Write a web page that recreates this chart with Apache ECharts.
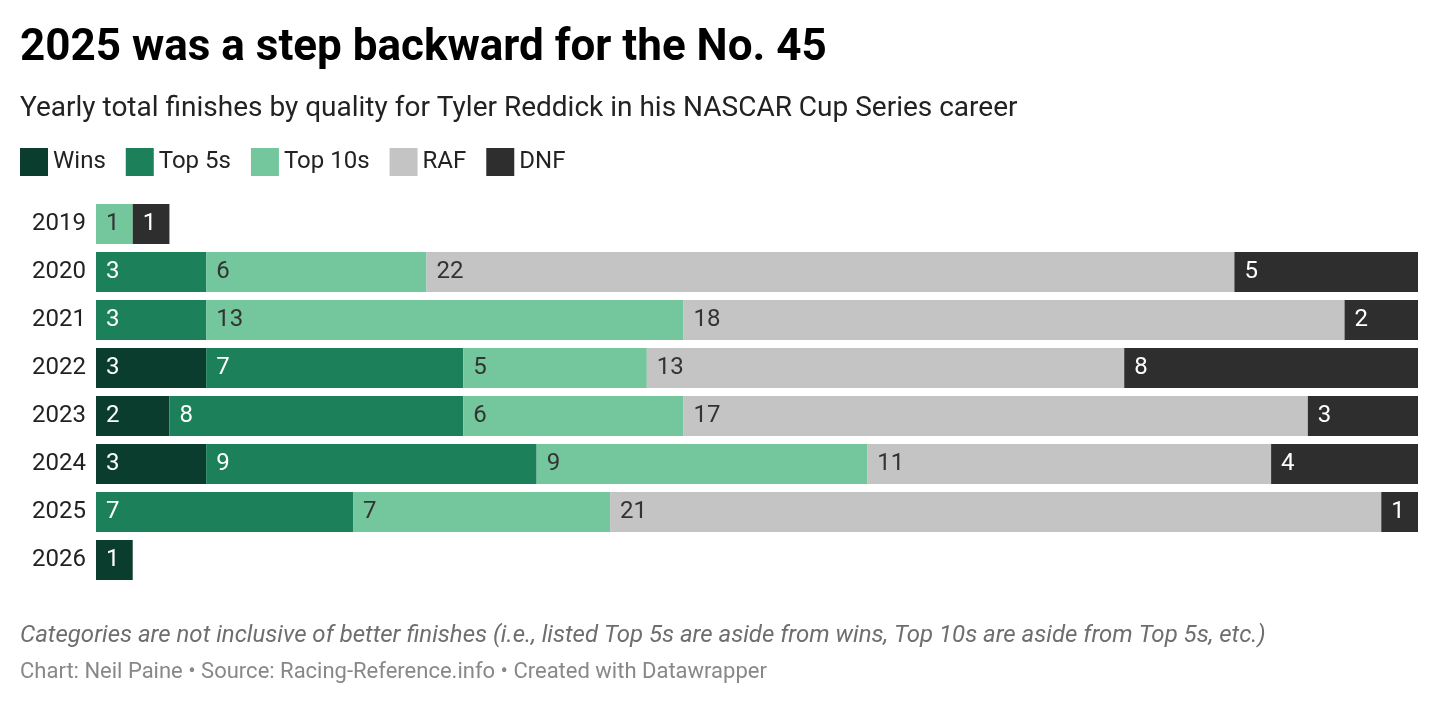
<!DOCTYPE html>
<html>
<head>
<meta charset="utf-8">
<script src="https://cdn.jsdelivr.net/npm/echarts@6/dist/echarts.min.js"></script>
<style>
  html, body { margin: 0; padding: 0; background: #fff; }
  #main { width: 1440px; height: 704px; }
</style>
</head>
<body>
<div id="main"></div>
<script>
// data
let years = ['2019', '2020', '2021', '2022', '2023', '2024', '2025', '2026'];
let wins   = [null, null, null, 3, 2, 3, null, 1];
let top5s  = [null, 3, 3, 7, 8, 9, 7, null];
let top10s = [1, 6, 13, 5, 6, 9, 7, null];
let raf    = [null, 22, 18, 13, 17, 11, 21, null];
let dnf    = [1, 5, 2, 8, 3, 4, 1, null];

window.addEventListener("load", function () {
    let chart = echarts.init(document.getElementById('main'));
    let font = 'Roboto';

    function barSeries(name, data, color, labelColor) {
        return {
            name: name,
            type: 'bar',
            stack: 'total',
            data: data,
            barWidth: 40,
            itemStyle: { color: color },
            label: {
                show: true,
                position: 'insideLeft',
                distance: 10,
                color: labelColor,
                fontFamily: font,
                fontSize: 24
            },
            emphasis: { disabled: true }
        };
    }

    let option = {
        animation: false,
        textStyle: { fontFamily: font },
        title: [
            {
                text: '2025 was a step backward for the No. 45',
                left: 20, top: 23, padding: 0,
                textStyle: { fontSize: 44, fontWeight: 'bold', color: '#000', lineHeight: 52 }
            },
            {
                text: 'Yearly total finishes by quality for Tyler Reddick in his NASCAR Cup Series career',
                left: 20, top: 92, padding: 0,
                textStyle: { fontSize: 28, fontWeight: 'normal', color: '#222', lineHeight: 34 }
            },
            {
                text: 'Categories are not inclusive of better finishes (i.e., listed Top 5s are aside from wins, Top 10s are aside from Top 5s, etc.)',
                left: 20, top: 622, padding: 0,
                textStyle: { fontSize: 24, fontWeight: 'normal', fontStyle: 'italic', color: '#6e6e6e', lineHeight: 28 }
            },
            {
                text: 'Chart: Neil Paine \u2022 Source: Racing-Reference.info \u2022 Created with Datawrapper',
                left: 20, top: 659, padding: 0,
                textStyle: { fontSize: 22, fontWeight: 'normal', color: '#888', lineHeight: 26 }
            }
        ],
        legend: {
            left: 20,
            top: 148,
            padding: 0,
            icon: 'rect',
            itemWidth: 28,
            itemHeight: 28,
            itemGap: 20,
            textStyle: { fontSize: 24, color: '#222', fontFamily: font },
            data: ['Wins', 'Top 5s', 'Top 10s', 'RAF', 'DNF']
        },
        grid: { left: 96, right: 22, top: 200, bottom: 120 },
        xAxis: {
            type: 'value',
            min: 0,
            max: 36,
            show: false
        },
        yAxis: {
            type: 'category',
            data: years,
            inverse: true,
            axisLine: { show: false },
            axisTick: { show: false },
            axisLabel: { color: '#222', fontSize: 24, margin: 10, fontFamily: font }
        },
        series: [
            barSeries('Wins', wins, '#0b3d2e', '#fff'),
            barSeries('Top 5s', top5s, '#1c805a', '#fff'),
            barSeries('Top 10s', top10s, '#74c69d', '#333'),
            barSeries('RAF', raf, '#c4c4c4', '#333'),
            barSeries('DNF', dnf, '#2e2e2e', '#fff')
        ]
    };

    chart.setOption(option);
}, false);
</script>
</body>
</html>
